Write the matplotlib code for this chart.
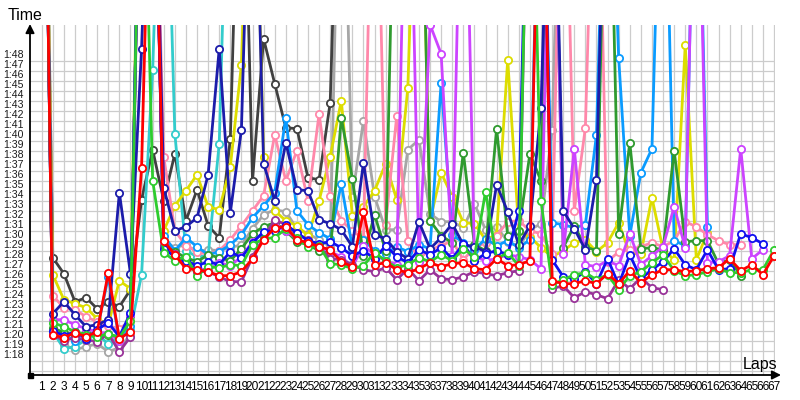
import numpy as np
import matplotlib
matplotlib.use('Agg')
import matplotlib.pyplot as plt
from matplotlib.transforms import blended_transform_factory
from matplotlib.patches import Rectangle

plt.rcParams['font.family'] = ['Liberation Sans', 'DejaVu Sans']

N_LAPS = 67
laps = list(range(1, N_LAPS + 1))
y_tick_seconds = list(range(78, 109))
y_tick_labels = ['1:%02d' % s for s in range(18, 49)]

# lap times in seconds (140 = off the top of the chart / pit lap)
red = [155, 80.6, 80.3, 80.8, 80.4, 80.9, 86.8, 80.2, 80.9, 97.3,
       140, 90.0, 88.6, 87.2, 87.1, 86.9, 86.5, 86.5, 86.9, 88.2,
       90.1, 91.3, 91.4, 90.1, 89.8, 89.4, 89.1, 87.9, 87.4, 92.9,
       87.6, 87.8, 87.1, 86.8, 87.2, 87.8, 87.4, 87.7, 87.8, 87.2,
       87.1, 88.2, 87.5, 87.6, 88.0, 140, 86.0, 85.7, 85.7, 86.0,
       85.7, 86.7, 85.7, 87.0, 85.8, 86.6, 87.1, 87.1, 86.9, 87.0,
       87.2, 87.3, 88.2, 87.0, 87.6, 86.6, 88.5]
green = [155, 81.8, 81.4, 80.9, 80.6, 80.4, 80.7, 80.3, 82.0, 140,
         96.0, 88.8, 88.0, 88.4, 86.5, 87.4, 87.3, 87.6, 87.5, 89.6,
         90.2, 90.3, 91.2, 90.3, 89.4, 89.5, 87.7, 87.6, 87.2, 87.5,
         88.8, 88.0, 87.3, 87.6, 88.3, 87.9, 88.6, 88.0, 89.2, 88.4,
         94.9, 88.2, 88.8, 87.5, 140, 94.0, 85.6, 86.1, 86.6, 86.8,
         86.1, 86.6, 85.1, 86.5, 86.9, 87.8, 88.6, 87.0, 86.5, 86.6,
         86.9, 87.2, 86.8, 86.8, 87.1, 87.1, 89.1]
dkgreen = [155, 81.3, 80.8, 80.5, 80.8, 80.5, 80.6, 80.4, 82.5, 140,
           140, 89.5, 88.9, 88.3, 87.9, 88.6, 88.3, 88.0, 89.2, 90.7,
           91.4, 91.8, 91.0, 89.9, 89.6, 89.0, 88.7, 102.3, 96.2, 88.5,
           92.6, 89.0, 140, 140, 140, 92.0, 90.5, 89.8, 98.8, 89.6,
           89.0, 101.2, 90.5, 91.0, 98.7, 96.0, 140, 89.3, 91.5, 89.4,
           89.0, 140, 90.7, 99.8, 89.2, 89.3, 89.1, 99.0, 89.9, 90.0,
           90.0, 87.7, 88.1, 86.5]
navy = [155, 82.7, 83.9, 82.6, 81.4, 81.6, 82.1, 94.8, 86.7, 109.2,
        140, 95.3, 91.0, 91.4, 92.3, 96.6, 109.2, 92.8, 101.1, 140,
        97.7, 94.0, 99.8, 95.1, 95.0, 92.1, 91.7, 91.1, 89.4, 97.8,
        90.6, 90.2, 88.9, 88.2, 91.9, 89.2, 90.3, 91.7, 89.6, 89.4,
        88.9, 95.6, 92.9, 89.6, 91.5, 103.3, 140, 93.0, 91.2, 89.1,
        96.1, 140]
blue = [155, 81.0, 80.5, 80.9, 80.2, 81.1, 81.8, 80.4, 82.8, 140,
        140, 89.2, 88.4, 88.0, 87.5, 87.9, 87.6, 88.9, 88.3, 89.8,
        90.9, 91.0, 91.6, 90.8, 90.0, 89.7, 89.9, 89.3, 88.5, 89.0,
        88.2, 89.5, 88.4, 87.8, 89.1, 88.6, 89.3, 88.2, 89.7, 88.0,
        88.7, 89.0, 88.6, 93.0, 140, 140, 88.1, 86.4, 86.2, 86.9,
        85.7, 88.2, 85.6, 88.6, 86.2, 87.1, 87.9, 89.2, 87.6, 87.1,
        89.1, 87.1, 87.2, 90.7, 90.3, 89.7]
ltblue = [155, 80.9, 80.6, 80.0, 80.3, 81.0, 86.4, 80.1, 81.5, 140,
          140, 90.5, 89.0, 90.3, 89.4, 88.6, 88.9, 89.6, 90.6, 92.3,
          93.5, 94.8, 102.3, 93.0, 91.6, 90.8, 90.2, 95.7, 89.3, 90.1,
          89.0, 88.7, 89.4, 88.9, 89.6, 89.2, 105.8, 90.6, 89.8, 89.1,
          90.2, 89.5, 90.0, 89.3, 90.1, 140, 91.8, 91.6, 91.3, 91.6,
          100.6, 140, 108.3, 90.5, 96.8, 99.2, 140, 90.0, 89.5, 140,
          91.4]
teal = [155, 80.9, 79.2, 79.4, 80.1, 80.6, 79.7, 80.4, 81.1, 86.6,
        107.1, 140, 100.7, 89.0, 88.4, 88.5, 99.7, 140]
yellow = [155, 86.6, 84.1, 83.7, 83.3, 82.2, 81.6, 86.0, 85.2, 140,
          140, 91.0, 93.5, 95.0, 96.6, 93.4, 93.1, 97.4, 107.6, 140,
          98.4, 93.0, 92.0, 91.5, 90.5, 94.0, 98.4, 104.0, 92.5, 93.4,
          95.0, 97.7, 94.1, 105.3, 140, 92.0, 96.8, 94.4, 91.8, 91.7,
          90.1, 90.6, 108.1, 91.0, 90.4, 89.3, 88.4, 89.0, 89.8, 90.1,
          88.9, 89.8, 91.8, 88.7, 88.7, 94.3, 89.1, 88.1, 109.6, 88.1,
          90.8]
dkgray = [155, 88.3, 86.7, 83.9, 84.3, 83.2, 83.9, 83.4, 85.1, 94.1,
          99.1, 94.0, 98.7, 92.0, 95.1, 91.5, 90.3, 100.2, 140, 96.0,
          110.2, 105.7, 101.3, 101.2, 96.3, 96.1, 103.8, 140]
gray = [155, 80.7, 79.6, 79.1, 79.4, 79.7, 78.9, 79.3, 80.6, 140,
        140, 90.0, 89.3, 89.6, 88.9, 89.1, 89.0, 89.3, 89.6, 91.2,
        92.6, 93.1, 92.9, 91.2, 90.7, 90.1, 89.4, 140, 94.4, 102.0,
        94.4, 91.1, 91.1, 99.1, 100.1, 92.7, 91.9, 91.9, 91.3, 93.7,
        91.1, 91.4, 89.9, 89.4, 91.1, 91.7, 101.1, 140]
pink = [155, 84.5, 83.3, 83.1, 82.4, 81.9, 81.5, 81.2, 82.0, 140,
        140, 98.4, 91.0, 89.5, 88.9, 88.6, 89.0, 90.1, 91.5, 93.0,
        94.5, 100.6, 96.0, 99.0, 94.0, 102.7, 94.5, 92.0, 91.0, 90.2,
        140, 91.6, 102.5, 90.0, 88.2, 89.1, 89.5, 90.0, 88.1, 89.3,
        89.8, 90.5, 91.9, 92.0, 91.0, 90.7, 88.7, 140, 93.0, 101.3,
        140, 87.9, 88.9, 89.1, 89.4, 89.8, 89.4, 90.0, 91.9, 91.4,
        90.6, 90.0, 89.6, 89.6]
magenta = [155, 82.1, 82.1, 81.6, 81.2, 80.9, 80.7, 80.0, 82.6, 140,
           140, 89.9, 88.2, 87.6, 87.3, 87.0, 87.8, 87.5, 88.4, 89.9,
           90.8, 91.5, 91.0, 90.2, 89.6, 89.4, 88.9, 88.4, 87.4, 89.5,
           88.6, 88.0, 87.6, 140, 87.9, 111.6, 108.7, 88.5, 140, 88.4,
           88.0, 88.2, 88.6, 88.4, 88.1, 87.2, 140, 88.7, 99.2, 87.6,
           87.4, 88.0, 87.5, 90.7, 87.6, 88.5, 89.4, 93.4, 89.3, 140,
           87.8, 87.9, 88.5, 99.2, 88.2, 89.1]
purple = [155, 80.6, 80.0, 80.3, 80.1, 79.9, 80.7, 78.9, 80.4, 140,
          140, 89.5, 88.7, 87.7, 86.9, 86.9, 86.4, 85.9, 85.9, 88.4,
          90.3, 92.1, 91.6, 90.7, 90.1, 89.4, 88.2, 88.1, 87.6, 87.1,
          86.9, 87.3, 86.1, 87.2, 86.0, 87.1, 86.2, 86.1, 86.4, 86.9,
          86.7, 86.5, 86.8, 87.0, 140, 140, 85.2, 85.5, 84.3, 84.9,
          84.6, 84.2, 86.1, 85.2, 86.3, 85.3, 85.1]

series = [
    (gray, '#a6a6a6'),
    (dkgray, '#404040'),
    (teal, '#33cccc'),
    (yellow, '#dddd00'),
    (pink, '#ff88aa'),
    (ltblue, '#0a9bff'),
    (dkgreen, '#2f9a2f'),
    (magenta, '#cc44ff'),
    (purple, '#993399'),
    (navy, '#1c1caa'),
    (blue, '#1010ee'),
    (green, '#2ecc2e'),
    (red, '#ff0000'),
]

fig = plt.figure(figsize=(8, 4), dpi=100)
ax = fig.add_axes([30 / 800, 25 / 400, 745 / 800, 350 / 400])
ax.set_xlim(-0.0545, 67.09)
ax.set_ylim(76.57, 111.57)
for s in ax.spines.values():
    s.set_visible(False)
ax.set_xticks([])
ax.set_yticks([])

for L in laps:
    ax.axvline(L, color='#cccccc', lw=0.9, zorder=0)
for v in range(77, 109):
    ax.axhline(v, color='#cccccc', lw=0.9, zorder=0)

for vals, col in series:
    yv = np.array(vals, dtype=float)
    xv = np.array(laps[:len(yv)])
    ax.plot(xv, yv, color=col, lw=2.0, marker='o', markersize=5.2,
            markerfacecolor='white', markeredgecolor=col, markeredgewidth=1.3,
            zorder=3)

# axis lines with arrows (figure pixel coordinates)
ax.annotate('', xy=(30, 376), xycoords='figure pixels', xytext=(30, 25),
            textcoords='figure pixels',
            arrowprops=dict(arrowstyle='-|>', color='black', lw=1.3,
                            mutation_scale=13, shrinkA=0, shrinkB=0))
ax.annotate('', xy=(781, 25), xycoords='figure pixels', xytext=(30, 25),
            textcoords='figure pixels',
            arrowprops=dict(arrowstyle='-|>', color='black', lw=1.3,
                            mutation_scale=13, shrinkA=0, shrinkB=0))
fig.patches.append(Rectangle((27.5 / 800, 22.5 / 400), 5 / 800, 5 / 400,
                             transform=fig.transFigure, color='black',
                             zorder=10))

# tick labels
ty = blended_transform_factory(ax.transAxes, ax.transData)
for v, lab in zip(y_tick_seconds, y_tick_labels):
    ax.text(-6 / 745, v + 0.57, lab, transform=ty, ha='right', va='center',
            fontsize=7.6, color='#1a1a1a', clip_on=False)
tx = blended_transform_factory(ax.transData, ax.transAxes)
for L in laps:
    ax.text(L, -12 / 350, str(L), transform=tx, ha='center', va='center',
            fontsize=8.6, color='black', clip_on=False)

fig.text(8 / 800, 1 - 15 / 400, 'Time', ha='left', va='center',
         fontsize=11.5, color='black')
fig.text(743 / 800, 1 - 364 / 400, 'Laps', ha='left', va='center',
         fontsize=11.5, color='black')

fig.savefig('out.png', dpi=100)
